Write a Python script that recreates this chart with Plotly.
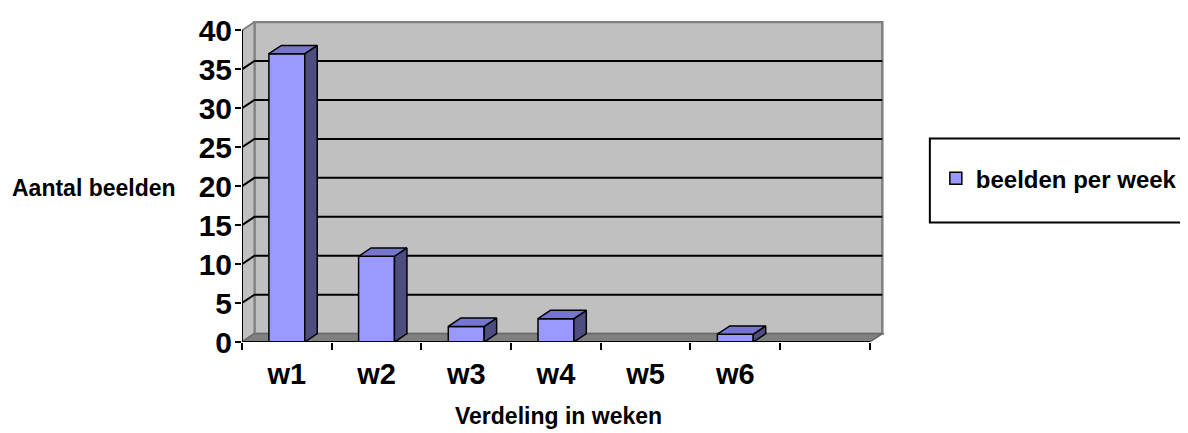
import plotly.graph_objects as go

# data
weeks = ["w1", "w2", "w3", "w4", "w5", "w6", ""]
beelden = [37, 11, 2, 3, 0, 1, None]
y_ticks = [0, 5, 10, 15, 20, 25, 30, 35, 40]
series_name = "beelden per week"

# look
FONT = "Arial, Liberation Sans, sans-serif"
FRONT = "#9999FF"
TOP = "#7676CC"
SIDE = "#4D4D80"
WALL = "#C0C0C0"
FLOOR = "#808080"

# the page body adds an 8px margin, so the figure is a bit smaller and
# every screen position below is shifted by OFF
OFF = 8
W, H = 1188 - OFF, 433 - OFF
L, R, T, B = 242 - OFF, 301, 14 - OFF, 91
PX_X = 90.0  # px per category
Y_MAX = 41.2
PX_Y = (H - T - B) / Y_MAX
DX = 12.5 / PX_X  # depth offset, x units
DY = 8.5 / PX_Y  # depth offset, y units
BAR_W = 0.4
X0, X1 = -0.5, len(weeks) - 0.5
TOP_V = y_ticks[-1]


def paper_x(px):
    return (px - OFF - L) / (W - L - R)


def paper_y(py):
    return (H - B - (py - OFF)) / (H - T - B)


def path(pts):
    return "M " + " L ".join(f"{x},{y}" for x, y in pts) + " Z"


fig = go.Figure()

# walls + floor + grid (drawn under the bars)
shapes = [
    dict(type="path", path=path([(X0 + DX, DY), (X1 + DX, DY), (X1 + DX, TOP_V + DY), (X0 + DX, TOP_V + DY)]),
         fillcolor=WALL, line=dict(color="#808080", width=2.5), layer="below"),
    dict(type="path", path=path([(X0, 0), (X0 + DX, DY), (X0 + DX, TOP_V + DY), (X0, TOP_V)]),
         fillcolor=WALL, line=dict(color="#808080", width=2), layer="below"),
    dict(type="path", path=path([(X0, 0), (X1, 0), (X1 + DX, DY), (X0 + DX, DY)]),
         fillcolor=FLOOR, line=dict(color="#6a6a6a", width=1.5), layer="below"),
]
for v in y_ticks[1:-1]:
    shapes.append(dict(type="path", path=f"M {X0},{v} L {X0 + DX},{v + DY} L {X1 + DX},{v + DY}",
                       line=dict(color="black", width=2), layer="below"))
shapes.append(dict(type="line", x0=X0, y0=0, x1=X0, y1=TOP_V, line=dict(color="black", width=2), layer="above"))
shapes.append(dict(type="line", x0=X0, y0=0, x1=X1, y1=0, line=dict(color="black", width=2), layer="above"))
# legend frame
shapes.append(dict(type="rect", xref="paper", yref="paper",
                   x0=paper_x(932), x1=paper_x(1194), y0=paper_y(220), y1=paper_y(134),
                   line=dict(color="black", width=2), fillcolor="white", layer="below"))

pos = list(range(len(weeks)))
vals = [v if v else None for v in beelden]

fig.add_trace(go.Bar(
    x=pos, y=vals, width=BAR_W, name=series_name,
    marker=dict(color=FRONT, line=dict(color="black", width=1.5)),
    hovertemplate="%{y}<extra></extra>",
))

# 3d top and side faces, from the same values
tx, ty, sx, sy = [], [], [], []
for p, v in zip(pos, vals):
    if not v:
        continue
    a, b = p - BAR_W / 2, p + BAR_W / 2
    tx += [a, a + DX, b + DX, b, a, None]
    ty += [v, v + DY, v + DY, v, v, None]
    sx += [b, b + DX, b + DX, b, b, None]
    sy += [0, DY, v + DY, v, 0, None]

fig.add_trace(go.Scatter(x=sx, y=sy, mode="lines", fill="toself", fillcolor=SIDE,
                         line=dict(color="black", width=1.5), showlegend=False, hoverinfo="skip"))
fig.add_trace(go.Scatter(x=tx, y=ty, mode="lines", fill="toself", fillcolor=TOP,
                         line=dict(color="black", width=1.5), showlegend=False, hoverinfo="skip"))

fig.update_layout(
    width=W, height=H,
    margin=dict(l=L, r=R, t=T, b=B),
    paper_bgcolor="white", plot_bgcolor="white",
    font=dict(family=FONT, color="black"),
    shapes=shapes,
    showlegend=True,
    legend=dict(x=paper_x(938), y=paper_y(175), xanchor="left", yanchor="middle",
                bgcolor="rgba(0,0,0,0)", borderwidth=0,
                font=dict(family=FONT, size=24, weight="bold", color="black")),
    annotations=[
        dict(text="Aantal beelden", xref="paper", yref="paper", x=paper_x(94), y=paper_y(185),
             xanchor="center", yanchor="middle",
             showarrow=False, font=dict(family=FONT, size=23, weight="bold")),
        dict(text="Verdeling in weken", xref="paper", yref="paper", x=paper_x(559), y=paper_y(418),
             xanchor="center", yanchor="middle",
             showarrow=False, font=dict(family=FONT, size=23, weight="bold")),
    ],
)

fig.update_xaxes(
    range=[X0, X1 + DX + 0.03],
    tickmode="array", tickvals=pos, ticktext=weeks,
    ticks="outside", ticklen=6, tickcolor="rgba(0,0,0,0)",
    tickfont=dict(family=FONT, size=29, weight="bold"),
    minor=dict(tickmode="array", tickvals=[X0 + i for i in range(len(weeks) + 1)],
               ticks="outside", ticklen=7, tickwidth=2, tickcolor="black"),
    showgrid=False, zeroline=False, showline=False, fixedrange=True,
)
fig.update_yaxes(
    range=[0, Y_MAX],
    tickmode="array", tickvals=y_ticks,
    ticks="outside", ticklen=6, tickwidth=2, tickcolor="black",
    ticklabelstandoff=-3, ticklabeloverflow="allow",
    tickfont=dict(family=FONT, size=30, weight="bold"),
    showgrid=False, zeroline=False, showline=False, fixedrange=True,
)

fig.write_html("out.html")
